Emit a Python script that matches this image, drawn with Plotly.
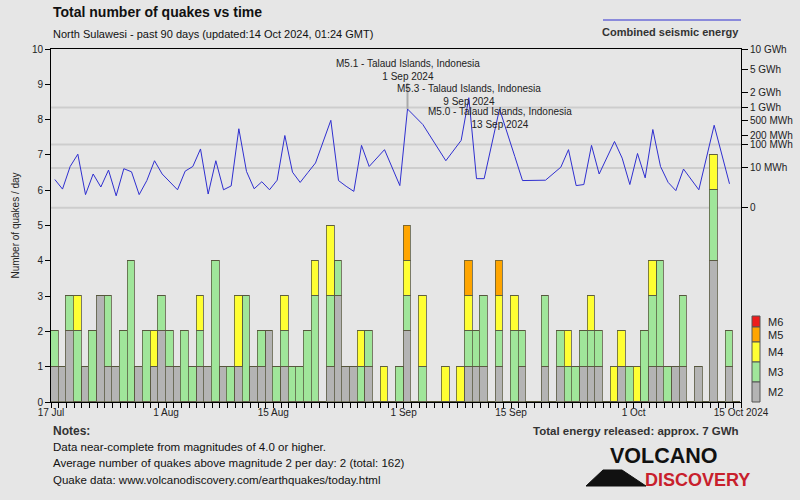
import datetime as dt
import plotly.graph_objects as go

# ---------------- data ----------------
start_date = dt.date(2024, 7, 17)
n_days = 90
days = [start_date + dt.timedelta(days=i) for i in range(n_days)]

m2 = [1, 1, 2, 0, 1, 0, 3, 1, 1, 0, 0, 1, 0, 1, 2, 1, 1, 0, 0, 1,
      1, 0, 1, 0, 1, 0, 1, 1, 2, 0, 1, 0, 0, 0, 0, 0, 1, 3, 1, 1,
      0, 1, 0, 0, 0, 0, 2, 0, 0, 0, 0, 0, 0, 0, 1, 1, 1, 0, 1, 0,
      0, 1, 0, 0, 1, 0, 1, 0, 0, 1, 1, 1, 0, 0, 1, 0, 0, 0, 1, 1,
      0, 1, 1, 0, 1, 0, 4, 0, 1, 0]
m3 = [1, 0, 1, 2, 0, 2, 0, 2, 0, 2, 4, 0, 2, 0, 1, 1, 0, 2, 1, 1,
      0, 4, 0, 1, 0, 3, 0, 1, 0, 1, 1, 1, 1, 2, 3, 0, 2, 1, 0, 0,
      1, 1, 0, 0, 0, 1, 1, 0, 1, 0, 0, 0, 0, 0, 1, 1, 2, 0, 1, 0,
      2, 1, 0, 0, 2, 0, 1, 1, 1, 1, 1, 1, 0, 0, 0, 1, 0, 2, 2, 3,
      1, 0, 2, 0, 0, 0, 2, 0, 1, 0]
m4 = [0, 0, 0, 1, 0, 0, 0, 0, 0, 0, 0, 0, 0, 1, 0, 0, 0, 0, 0, 1,
      0, 0, 0, 0, 2, 0, 0, 0, 0, 0, 1, 0, 0, 0, 1, 0, 2, 0, 0, 0,
      1, 0, 0, 1, 0, 0, 1, 0, 2, 0, 0, 1, 0, 1, 1, 0, 0, 0, 1, 0,
      1, 0, 0, 0, 0, 0, 0, 1, 0, 0, 1, 0, 0, 1, 1, 0, 1, 0, 1, 0,
      0, 0, 0, 0, 0, 0, 1, 0, 0, 0]
m5 = [0, 0, 0, 0, 0, 0, 0, 0, 0, 0, 0, 0, 0, 0, 0, 0, 0, 0, 0, 0,
      0, 0, 0, 0, 0, 0, 0, 0, 0, 0, 0, 0, 0, 0, 0, 0, 0, 0, 0, 0,
      0, 0, 0, 0, 0, 0, 1, 0, 0, 0, 0, 0, 0, 0, 1, 0, 0, 0, 1, 0,
      0, 0, 0, 0, 0, 0, 0, 0, 0, 0, 0, 0, 0, 0, 0, 0, 0, 0, 0, 0,
      0, 0, 0, 0, 0, 0, 0, 0, 0, 0]

# daily combined seismic energy (MWh); None = no quakes that day
energy_mwh = [1.8, 0.23, 12, 44, 0.04, 4.4, 0.39, 7.6, 0.025, 9.1,
              6.0, 0.04, 1.5, 23, 4.4, 1.05, 0.19, 6.6, 12, 70,
              0.05, 23, 0.19, 0.5, 306, 6.3, 0.25, 1.2, 0.19, 1.6,
              196, 5.7, 1.05, 5.4, 18, None, 508, 1.5, 0.46, 0.12,
              94, 12, None, 66, None, 0.54, 933, None, 397, None,
              None, 23, None, 138, 1602, 2.1, 2.1, None, 933, None,
              35, 1.5, None, None, 1.6, None, 11, 66, 0.54, 0.68,
              94, 4.4, None, 127, 30, 0.68, 47, 2.4, 292, 12,
              1.05, 0.15, 8.7, None, 0.19, None, 380, None, 0.79, None]

energy_ticks = [0, 10, 100, 200, 500, 1000, 2000, 5000, 10000]
energy_tick_labels = ["0", "10 MWh", "100 MWh", "200 MWh", "500 MWh",
                      "1 GWh", "2 GWh", "5 GWh", "10 GWh"]
energy_grid = [0, 10, 100, 1000]

x_tick_dates = ["2024-07-17", "2024-08-01", "2024-08-15", "2024-09-01",
                "2024-09-15", "2024-10-01", "2024-10-15"]
x_tick_labels = ["17 Jul", "1 Aug", "15 Aug", "1 Sep", "15 Sep", "1 Oct", "15 Oct 2024"]

events = [("M5.1 - Talaud Islands, Indonesia", "1 Sep 2024", "2024-09-01"),
          ("M5.3 - Talaud Islands, Indonesia", "9 Sep 2024", "2024-09-09"),
          ("M5.0 - Talaud Islands, Indonesia", "13 Sep 2024", "2024-09-13")]

mag_labels = ["M6", "M5", "M4", "M3", "M2"]
mag_colors = ["#ee1c1c", "#ffa500", "#ffff33", "#a0e69a", "#b4b4b4"]

# ---------------- helpers ----------------
FONT = "Liberation Sans, Arial, sans-serif"
L, R, T, B = 51, 741, 49, 402
W, H = 800, 500


def px(x):
    return (x - L) / (R - L)


def py(y):
    return (B - y) / (B - T)


def energy_pos(e):
    # chart's energy scale: 0 at 5.5, 10 GWh at 10, ~E^0.2
    return 5.5 + 4.5 * (e / 10000.0) ** 0.2


bar_x = [d.isoformat() + "T12:00:00" for d in days]
DAY_MS = 86400000
outline = dict(color="rgba(85,85,60,0.75)", width=1.5)

fig = go.Figure()
for vals, col in [(m2, mag_colors[4]), (m3, mag_colors[3]), (m4, mag_colors[2]), (m5, mag_colors[1])]:
    fig.add_trace(go.Bar(x=bar_x, y=vals, width=DAY_MS, marker=dict(color=col, line=outline),
                         hoverinfo="skip"))

energy_y = [energy_pos(e) if e is not None else None for e in energy_mwh]
fig.add_trace(go.Scatter(x=bar_x, y=energy_y, mode="lines", yaxis="y2", connectgaps=True,
                         line=dict(color="#2f2fd0", width=1)))

shapes = []
# energy grid lines
for g in energy_grid:
    shapes.append(dict(type="line", xref="paper", yref="y2", x0=0, x1=1,
                       y0=energy_pos(g), y1=energy_pos(g),
                       line=dict(color="#cdcdcd", width=2), layer="below"))

annotations = []
# event annotations
ev_text_y = [70, 95, 118]
for (t1, t2, d), ty in zip(events, ev_text_y):
    annotations.append(dict(x=d + "T12:00:00", xref="x", y=py(ty), yref="paper",
                            text=t1 + "<br>" + t2, showarrow=False, xanchor="center",
                            yanchor="middle", font=dict(size=10, color="#222"),
                            align="center"))
# connector for first event
i_ev = days.index(dt.date(2024, 9, 1))
shapes.append(dict(type="line", xref="x", yref="y2", x0=bar_x[i_ev], x1=bar_x[i_ev],
                   y0=energy_y[i_ev], y1=(B - 83) / (B - T) * 10,
                   line=dict(color="#aaaaaa", width=2), layer="below"))

# magnitude legend
leg_edges = [316, 327, 342, 362, 382, 402]
for k, (lab, col) in enumerate(zip(mag_labels, mag_colors)):
    y0, y1 = leg_edges[k], leg_edges[k + 1]
    shapes.append(dict(type="rect", xref="paper", yref="paper", x0=px(752), x1=px(760),
                       y0=py(y1), y1=py(y0), fillcolor=col,
                       line=dict(color="#555555", width=1)))
    annotations.append(dict(x=px(766), y=py((y0 + y1) / 2), xref="paper", yref="paper",
                            text=lab, showarrow=False, xanchor="left", yanchor="middle",
                            font=dict(size=11, color="#222")))

# energy legend (top right)
shapes.append(dict(type="line", xref="paper", yref="paper", x0=px(603), x1=px(741),
                   y0=py(20), y1=py(20), line=dict(color="#2f2fd0", width=1)))
annotations.append(dict(x=px(741), y=py(32), xref="paper", yref="paper",
                        text="<b>Combined seismic energy</b>", showarrow=False,
                        xanchor="right", yanchor="middle", font=dict(size=11, color="#333")))

# titles
annotations.append(dict(x=px(51), y=py(12), xref="paper", yref="paper",
                        text="<b>Total number of quakes vs time</b>", showarrow=False,
                        xanchor="left", yanchor="middle", font=dict(size=14, color="#111")))
annotations.append(dict(x=px(51), y=py(34), xref="paper", yref="paper",
                        text="North Sulawesi - past 90 days (updated:14 Oct 2024, 01:24 GMT)",
                        showarrow=False, xanchor="left", yanchor="middle",
                        font=dict(size=11, color="#111")))

# notes
annotations.append(dict(x=px(51), y=py(431), xref="paper", yref="paper", text="<b>Notes:</b>",
                        showarrow=False, xanchor="left", yanchor="middle",
                        font=dict(size=12, color="#333")))
note_lines = ["Data near-complete from magnitudes of 4.0 or higher.",
              "Average number of quakes above magnitude 2 per day: 2 (total: 162)",
              "Quake data: www.volcanodiscovery.com/earthquakes/today.html"]
for ln, yy in zip(note_lines, [447, 463, 480]):
    annotations.append(dict(x=px(51), y=py(yy), xref="paper", yref="paper", text=ln,
                            showarrow=False, xanchor="left", yanchor="middle",
                            font=dict(size=11.5, color="#111")))
annotations.append(dict(x=px(741), y=py(431), xref="paper", yref="paper",
                        text="<b>Total energy released: approx. 7 GWh</b>", showarrow=False,
                        xanchor="right", yanchor="middle", font=dict(size=11.5, color="#333")))

# logo
tri = [(586, 486), (603, 470), (622, 470), (646, 486)]
path = "M " + " L ".join(f"{px(a):.4f},{py(b):.4f}" for a, b in tri) + " Z"
shapes.append(dict(type="path", xref="paper", yref="paper", path=path,
                   fillcolor="#111111", line=dict(color="#111111", width=1)))
LOGO_FONT = "Liberation Sans, Arial, sans-serif"
annotations.append(dict(x=px(664), y=py(456), xref="paper", yref="paper",
                        text="<b>VOLCANO</b>", showarrow=False, xanchor="center", yanchor="middle",
                        font=dict(size=21.5, color="#111111", family=LOGO_FONT)))
annotations.append(dict(x=px(697), y=py(480), xref="paper", yref="paper",
                        text="<b>DISCOVERY</b>", showarrow=False, xanchor="center", yanchor="middle",
                        font=dict(size=18, color="#c8202c", family=LOGO_FONT)))

fig.update_layout(
    width=W, height=H,
    margin=dict(l=L, r=W - R, t=T, b=H - B, autoexpand=False),
    paper_bgcolor="#e6e6e6", plot_bgcolor="#e6e6e6",
    barmode="stack", bargap=0, showlegend=False,
    font=dict(family=FONT, size=10, color="#222"),
    shapes=shapes, annotations=annotations,
    xaxis=dict(type="date", range=["2024-07-17", "2024-10-15"],
               tickvals=x_tick_dates, ticktext=x_tick_labels,
               ticks="outside", ticklen=5, tickcolor="black",
               showline=True, linecolor="black", linewidth=1, mirror=True,
               showgrid=False, zeroline=False, tickfont=dict(size=10),
               ticklabelstandoff=-4,
               minor=dict(dtick=DAY_MS, tick0="2024-07-17", ticks="outside", ticklen=5,
                          tickcolor="black", showgrid=False)),
    yaxis=dict(range=[0, 10], dtick=1, ticks="outside", ticklen=5, tickcolor="black",
               showline=True, linecolor="black", linewidth=1, showgrid=False, zeroline=False,
               tickfont=dict(size=10),
               title=dict(text="Number of quakes / day", font=dict(size=10), standoff=10)),
    yaxis2=dict(overlaying="y", side="right", range=[0, 10],
                tickvals=[energy_pos(e) for e in energy_ticks], ticktext=energy_tick_labels,
                ticks="outside", ticklen=6, tickcolor="black",
                showline=True, linecolor="black", linewidth=1, showgrid=False, zeroline=False,
                tickfont=dict(size=10)),
)

fig.write_html("out.html", config={"displayModeBar": False},
               post_script="document.body.style.margin='0';document.body.style.overflow='hidden';")
